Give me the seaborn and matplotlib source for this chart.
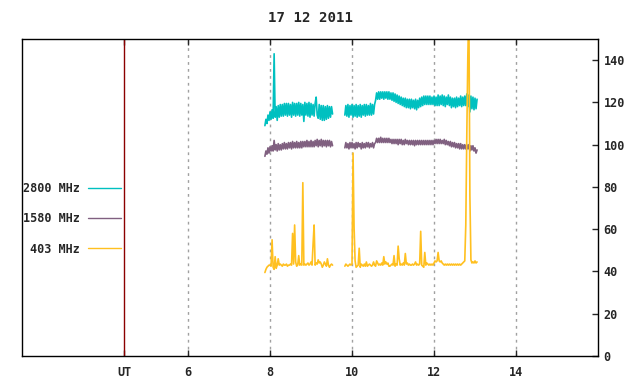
import numpy as np
import pandas as pd
import matplotlib
matplotlib.use("Agg")
import matplotlib.pyplot as plt
import seaborn as sns

# sampling clock of the two observing runs (UT hours)
t_run1 = np.round(np.arange(7.875, 9.5251, 0.025), 3)
t_run2 = np.round(np.arange(9.825, 13.0501, 0.025), 3)

# flux (sfu)
f2800_run1 = [109, 112, 110, 114, 111.5, 115.5, 112, 116.5, 112.5, 143,
              113, 118, 111.5, 118.5, 113, 119, 113.5, 119, 113.5, 119.5,
              114, 119.5, 113.5, 119.5, 114, 119, 113, 120, 114, 119.5,
              113.5, 119.5, 114, 120, 113.5, 119.5, 114, 119, 111, 120,
              114, 119.5, 113.5, 120, 113, 119.5, 114, 119, 113.5, 119.5,
              122.5, 114, 112.5, 119, 112, 118.5, 111.5, 118.5, 111.5, 118,
              112, 118.5, 112.5, 118, 113, 118, 114.5]
f2800_run2 = [114, 118.5, 113.5, 119, 113, 118.5, 114, 119, 113, 118.5,
              113.5, 119, 113, 118.5, 113.5, 119, 113, 118.5, 114, 119,
              113.5, 119, 114, 118.5, 114, 119.5, 114, 119, 114.5, 119,
              121, 124.5, 121.5, 125, 121.5, 125, 122, 125, 121.5, 125,
              122, 125, 121.5, 125, 121.5, 124.5, 121, 124.5, 120.5, 124,
              120, 123.5, 119.5, 123, 119, 122.5, 118.5, 122, 118, 122,
              117.5, 121.5, 117.5, 121.5, 117, 121.5, 117.5, 121, 117, 121.5,
              116.5, 121, 117.5, 122, 118, 122.5, 118.5, 123, 119, 123,
              119, 123, 119, 123, 119, 122.5, 119, 123, 118.5, 122.5,
              118.5, 123.5, 118.5, 123, 119, 123.5, 118.5, 123, 118, 122.5,
              119, 123.5, 118.5, 122.5, 117.5, 122, 118, 122, 117.5, 122.5,
              118, 122, 118.5, 123, 118, 122.5, 118.5, 123, 118.5, 124,
              118, 123.5, 115.5, 123, 117, 122.5, 116.5, 122, 117, 121.5]

f1580_run1 = [94.5, 97, 95.5, 98.5, 96, 99, 97, 99.5, 97, 102,
              97.5, 100, 97, 100.5, 97.5, 100, 97.5, 100.5, 98, 101,
              98, 100.5, 98, 101, 98.5, 101, 98, 101.5, 98.5, 101,
              98.5, 101.5, 98.5, 101, 98.5, 101.5, 98.5, 101.5, 99, 101.5,
              99, 102, 99, 101.5, 99, 102, 99, 101.5, 99, 102,
              99.5, 102.5, 99, 102, 99.5, 102.5, 99, 102, 99.5, 102,
              99, 102, 99.5, 102, 99, 101.5, 99.5]
f1580_run2 = [98.5, 101, 98.5, 100.5, 98, 101, 98.5, 101, 98.5, 100.5,
              98, 101, 98.5, 101, 99, 100.5, 98, 101, 98.5, 100.5,
              98.5, 101, 99, 101, 98.5, 100.5, 99, 101, 98.5, 100.5,
              101, 103, 101, 103, 101, 103.5, 101, 103, 101, 103,
              101, 103, 101, 103, 101, 102.5, 100.5, 102.5, 100.5, 102.5,
              100.5, 102.5, 100, 102.5, 100.5, 102.5, 100, 102, 100, 102.5,
              100.5, 102, 100, 102, 100, 102, 100, 102, 99.5, 102,
              100, 102, 100, 102, 100, 102, 100, 102, 100, 102,
              100, 102, 100, 102, 100, 102, 100, 102, 100.5, 102.5,
              100.5, 102.5, 100.5, 102.5, 100.5, 102, 100.5, 102.5, 100, 102,
              100, 101.5, 99.5, 101.5, 99, 101, 99, 101, 98.5, 100.5,
              98.5, 100.5, 98, 100.5, 98, 100, 98, 100, 98, 100,
              98, 100, 97, 99.5, 97.5, 99.5, 97, 98.5, 96, 97.5]

f403_run1 = [39.5, 41, 42, 42.5, 43, 43, 42.5, 55, 42, 41,
             47, 41.5, 43, 46, 43, 43.5, 43, 42.5, 43.5, 43,
             43, 43.5, 42.5, 43, 43, 43.5, 43, 58, 43.5, 62,
             44.5, 42.5, 43, 47.5, 43, 43.5, 43, 82, 43, 43.5,
             43, 43.5, 44, 43, 43.5, 44.5, 43, 53, 62, 43,
             44, 43.5, 45.5, 44, 44.5, 43.5, 42, 43, 44.5, 43.5,
             42.5, 46, 43, 42, 43, 43.5, 43]
f403_run2 = [42.5, 43.5, 43, 42.5, 43, 43.5, 43, 43.5, 96, 61,
             45, 42, 42.5, 43, 51, 42, 43.5, 43, 42.5, 43.5,
             42.5, 44.5, 42.5, 43, 43.5, 43, 42.5, 43, 44.5, 43,
             42.5, 45, 44, 43, 43.5, 43, 44, 43, 47, 43.5,
             44.5, 43.5, 44, 42.5, 42.5, 43, 43.5, 43, 47.5, 42.5,
             43.5, 43, 52, 46, 43, 43.5, 43, 44, 43, 48.5,
             43.5, 44, 43, 43.5, 43, 43, 43.5, 43, 43.5, 44.5,
             43, 43.5, 43, 43.5, 59, 43, 42.5, 42, 49, 43,
             44, 43.5, 43, 43.5, 43, 43.5, 43, 44, 45, 44.5,
             45, 49, 45, 44.5, 45, 44, 43.5, 43, 43.5, 43,
             43.5, 43, 43.5, 43, 43.5, 43, 43.5, 43, 43.5, 43,
             43.5, 43, 43.5, 43, 43.5, 44, 44.5, 45, 62, 105,
             142, 165, 76, 45.5, 44, 44.5, 44, 45, 44, 44.5]

freqs = ["2800 MHz", "1580 MHz", "403 MHz"]
colors = ["#00c0c0", "#806080", "#ffc020"]

rows = []
for name, r1, r2 in zip(freqs, [f2800_run1, f1580_run1, f403_run1],
                        [f2800_run2, f1580_run2, f403_run2]):
    rows.append(pd.DataFrame({"ut": t_run1, "flux": r1, "freq": name, "run": 1}))
    rows.append(pd.DataFrame({"ut": t_run2, "flux": r2, "freq": name, "run": 2}))
df = pd.concat(rows, ignore_index=True)

sns.set_style("white")
plt.rcParams["font.family"] = ["DejaVu Sans Mono"]
plt.rcParams["font.weight"] = "bold"
plt.rcParams["font.size"] = 8.5

fig = plt.figure(figsize=(6.4, 3.84), dpi=100)
ax = fig.add_axes([22 / 640, 1 - 356 / 384, 576 / 640, 317 / 384])

# dotted hour grid and the red UT marker
for h in [6, 8, 10, 12, 14]:
    ax.axvline(h, color="#a0a0a0", lw=1, ls=(0, (2, 3)), zorder=0)
ax.axvline(4.45, color="#8b0000", lw=1, zorder=1)

sns.lineplot(data=df, x="ut", y="flux", hue="freq", units="run",
             estimator=None, hue_order=freqs, palette=colors, lw=1.2,
             legend=False, ax=ax, zorder=2)

ax.set_xlim(1.95, 16)
ax.set_ylim(0, 150)
ax.set_xticks([4.45, 6, 8, 10, 12, 14])
ax.set_xticklabels(["UT", "6", "8", "10", "12", "14"])
ax.set_yticks(range(0, 141, 20))
ax.yaxis.tick_right()
ax.tick_params(axis="y", direction="in", length=4, width=1, left=False, right=True, pad=4)
ax.tick_params(axis="x", direction="in", length=4, width=1, top=True, bottom=True, pad=7)
ax.set_xlabel("")
ax.set_ylabel("")
for s in ax.spines.values():
    s.set_color("black")
    s.set_linewidth(1)
ax.set_title("17 12 2011", pad=12, fontweight="bold")

handles = [plt.Line2D([], [], color=c, lw=1) for c in colors]
fig.legend(handles, freqs, loc="center right", markerfirst=False, frameon=False,
           bbox_to_anchor=(127 / 640, 1 - 219 / 384), bbox_transform=fig.transFigure,
           borderpad=0, handlelength=2.8, handletextpad=0.7, labelspacing=1.45)

fig.savefig("out.png", dpi=100)
